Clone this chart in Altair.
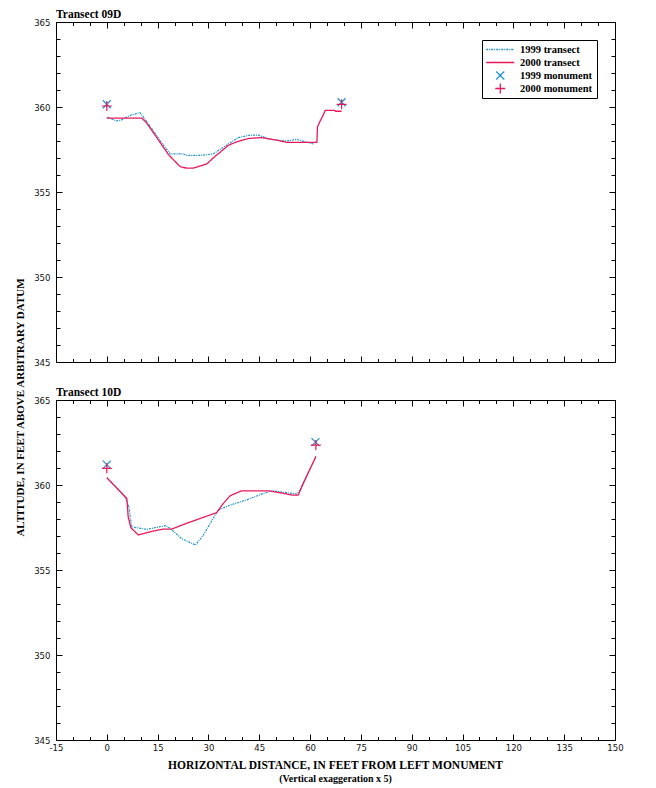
import altair as alt
import pandas as pd

SERIES = ["1999 transect", "2000 transect", "1999 monument", "2000 monument"]
BLUE = "#1b8fd2"
RED = "#e8195a"

# ---- Transect 09D ----
t09_1999_x = [0, 2.9, 4.4, 6.8, 9.8, 11.8, 16.7, 18.7, 22.6, 23.6, 28.0, 31.4, 35.4, 38.8, 42.3, 44.7, 48.2, 53.1, 56.0, 58.5, 61.0]
t09_1999_y = [359.40, 359.18, 359.24, 359.50, 359.67, 359.14, 357.76, 357.24, 357.24, 357.16, 357.16, 357.24, 357.76, 358.20, 358.35, 358.35, 358.10, 358.00, 358.10, 357.96, 357.82]
t09_2000_x = [0, 10.3, 11.8, 18.2, 21.6, 23.6, 25.5, 29.5, 31.4, 35.9, 38.3, 41.8, 45.7, 50.1, 53.1, 62.0, 62.2, 62.9, 64.5, 67.3, 67.5, 69.3]
t09_2000_y = [359.35, 359.35, 359.05, 357.20, 356.50, 356.40, 356.40, 356.65, 357.00, 357.75, 357.95, 358.15, 358.20, 358.05, 357.92, 357.92, 358.85, 359.14, 359.80, 359.80, 359.75, 359.75]
t09_mon1999_x = [0, 69.3]
t09_mon1999_y = [360.16, 360.28]
t09_mon2000_x = [0, 69.3]
t09_mon2000_y = [360.06, 360.16]

# ---- Transect 10D ----
t10_1999_x = [0, 5.1, 6.55, 7.3, 8.3, 11.8, 17.2, 18.7, 22.1, 26.2, 28.5, 31.4, 32.9, 36.4, 41.3, 46.2, 49.1, 56.0, 57.0, 61.7]
t10_1999_y = [360.43, 359.40, 358.69, 357.55, 357.51, 357.39, 357.61, 357.45, 356.84, 356.47, 357.06, 358.04, 358.53, 358.82, 359.12, 359.51, 359.66, 359.47, 359.70, 361.67]
t10_2000_x = [0, 5.1, 5.9, 6.3, 7.1, 9.3, 12.8, 16.7, 19.2, 23.6, 28.5, 32.4, 34.4, 36.4, 39.8, 47.7, 52.1, 54.6, 56.5, 58.0, 61.7]
t10_2000_y = [360.43, 359.37, 359.22, 358.14, 357.49, 357.06, 357.25, 357.41, 357.41, 357.75, 358.10, 358.37, 358.92, 359.37, 359.66, 359.66, 359.51, 359.41, 359.41, 360.10, 361.67]
t10_mon1999_x = [0, 61.6]
t10_mon1999_y = [361.20, 362.52]
t10_mon2000_x = [0, 61.7]
t10_mon2000_y = [360.98, 362.35]

X_TICKS_MAJOR = list(range(-15, 151, 15))
X_TICKS_MINOR = list(range(-15, 151, 5))
Y_TICKS_MAJOR = list(range(345, 366, 5))
Y_TICKS_MINOR = list(range(345, 366, 1))

SERIF = "Liberation Serif"
NARROW = "Liberation Sans Narrow, DejaVu Sans Condensed, Liberation Sans, sans-serif"

X_PATH = "M-1,-1L1,1M1,-1L-1,1"
PLUS_PATH = "M-1.25,0L1.25,0M0,-1.25L0,1.25"
LINE_PATH = "M-3.5,0L3.5,0"


def make_df(parts):
    rows = []
    for s, (xs, ys) in zip(SERIES, parts):
        for i, (a, b) in enumerate(zip(xs, ys)):
            rows.append({"x": a, "y": b, "series": s, "i": i})
    return pd.DataFrame(rows)


df09 = make_df([(t09_1999_x, t09_1999_y), (t09_2000_x, t09_2000_y),
                (t09_mon1999_x, t09_mon1999_y), (t09_mon2000_x, t09_mon2000_y)])
df10 = make_df([(t10_1999_x, t10_1999_y), (t10_2000_x, t10_2000_y),
                (t10_mon1999_x, t10_mon1999_y), (t10_mon2000_x, t10_mon2000_y)])

LEG = alt.Legend(
    title=None, orient="top-right", offset=18, padding=4, rowPadding=2, clipHeight=11,
    symbolSize=64, symbolStrokeWidth=1.3, symbolOffset=9, labelOffset=14.5,
    labelFont=SERIF, labelFontSize=10.5, labelFontWeight="bold", labelColor="black",
    strokeColor="black",
)


def ax(orient, values, size, labels=False, **kw):
    opts = dict(orient=orient, values=values, tickSize=size, offset=-size, domain=False,
                grid=False, labels=labels, ticks=True, tickColor="black", tickWidth=1,
                title=None)
    opts.update(kw)
    return alt.Axis(**opts)


XLAB = dict(labelFont=NARROW, labelFontSize=9.5, labelColor="#111", labelPadding=2,
            labelFlush=False, labelOverlap=False, labelExpr="'' + datum.value")
YLAB = dict(labelFont=NARROW, labelFontSize=9.5, labelColor="#111", labelPadding=6,
            labelFlush=False, labelOverlap=False)


def panel(df, name, top):
    xs = alt.Scale(domain=[-15, 150], nice=False, zero=False)
    ys = alt.Scale(domain=[345, 365], nice=False, zero=False)
    leg = LEG if top else None
    color = alt.Color("series:N", scale=alt.Scale(domain=SERIES, range=[BLUE, RED, BLUE, RED]), legend=leg)
    dash = alt.StrokeDash("series:N", scale=alt.Scale(domain=SERIES, range=[[2, 1, 1, 1], [1, 0], [1, 0], [1, 0]]), legend=leg)
    shape = alt.Shape("series:N", scale=alt.Scale(domain=SERIES, range=[LINE_PATH, LINE_PATH, X_PATH, PLUS_PATH]), legend=leg)

    if top:
        ymaj = ax("left", Y_TICKS_MAJOR, 6, True, **YLAB,
                  **dict(title="ALTITUDE, IN FEET ABOVE ARBITRARY DATUM", titleFont=SERIF,
                         titleFontSize=11, titleFontWeight="bold", titleColor="black",
                         titleAngle=270, titleAlign="center", titleBaseline="middle",
                         titleX=-42, titleY=385))
        xmaj = ax("bottom", X_TICKS_MAJOR, 6, False)
    else:
        ymaj = ax("left", Y_TICKS_MAJOR, 6, True, **YLAB)
        xmaj = ax("bottom", X_TICKS_MAJOR, 6, True, **XLAB)

    base = alt.Chart(df)
    l1 = base.transform_filter(alt.datum.series == SERIES[0]).mark_line(strokeWidth=1.2).encode(
        x=alt.X("x:Q", scale=xs, axis=xmaj),
        y=alt.Y("y:Q", scale=ys, axis=ymaj),
        color=color, strokeDash=dash, order="i:Q")
    l2 = base.transform_filter(alt.datum.series == SERIES[1]).mark_line(strokeWidth=1.3).encode(
        x=alt.X("x:Q", scale=xs, axis=ax("top", X_TICKS_MAJOR, 6)),
        y=alt.Y("y:Q", scale=ys, axis=ax("right", Y_TICKS_MAJOR, 6)),
        color=color, strokeDash=dash, order="i:Q")
    l3 = base.transform_filter(alt.datum.series == SERIES[2]).mark_point(
        filled=False, size=64, strokeWidth=1.2, opacity=1).encode(
        x=alt.X("x:Q", scale=xs, axis=ax("bottom", X_TICKS_MINOR, 3.5)),
        y=alt.Y("y:Q", scale=ys, axis=ax("left", Y_TICKS_MINOR, 4)),
        color=color, shape=shape)
    l4 = base.transform_filter(alt.datum.series == SERIES[3]).mark_point(
        filled=False, size=64, strokeWidth=1.2, opacity=1).encode(
        x=alt.X("x:Q", scale=xs, axis=ax("top", X_TICKS_MINOR, 3.5)),
        y=alt.Y("y:Q", scale=ys, axis=ax("right", Y_TICKS_MINOR, 4)),
        color=color, shape=shape)

    return alt.layer(l1, l2, l3, l4).resolve_axis(x="independent", y="independent").properties(
        width=559, height=340,
        title=alt.TitleParams(text=name, anchor="start", frame="group", font=SERIF, fontSize=11.5,
                              fontWeight="bold", color="black", offset=-3),
    )


chart = alt.vconcat(
    panel(df09, "Transect 09D", True),
    panel(df10, "Transect 10D", False),
    spacing=38, bounds="flush",
).resolve_legend(color="independent", shape="independent", strokeDash="independent").properties(
    padding={"left": 5, "top": 0, "right": 5, "bottom": 0},
    title=alt.TitleParams(
        text="HORIZONTAL DISTANCE, IN FEET FROM LEFT MONUMENT",
        subtitle="(Vertical exaggeration x 5)",
        orient="bottom", anchor="middle", frame="group", offset=8,
        font=SERIF, fontSize=11.5, fontWeight="bold", color="black",
        subtitleFont=SERIF, subtitleFontSize=10, subtitleFontWeight="bold",
        subtitleColor="black", subtitlePadding=2,
    ),
).configure_view(stroke="black", strokeWidth=1)

chart.save("out.html", embed_options={"renderer": "svg", "actions": False})
